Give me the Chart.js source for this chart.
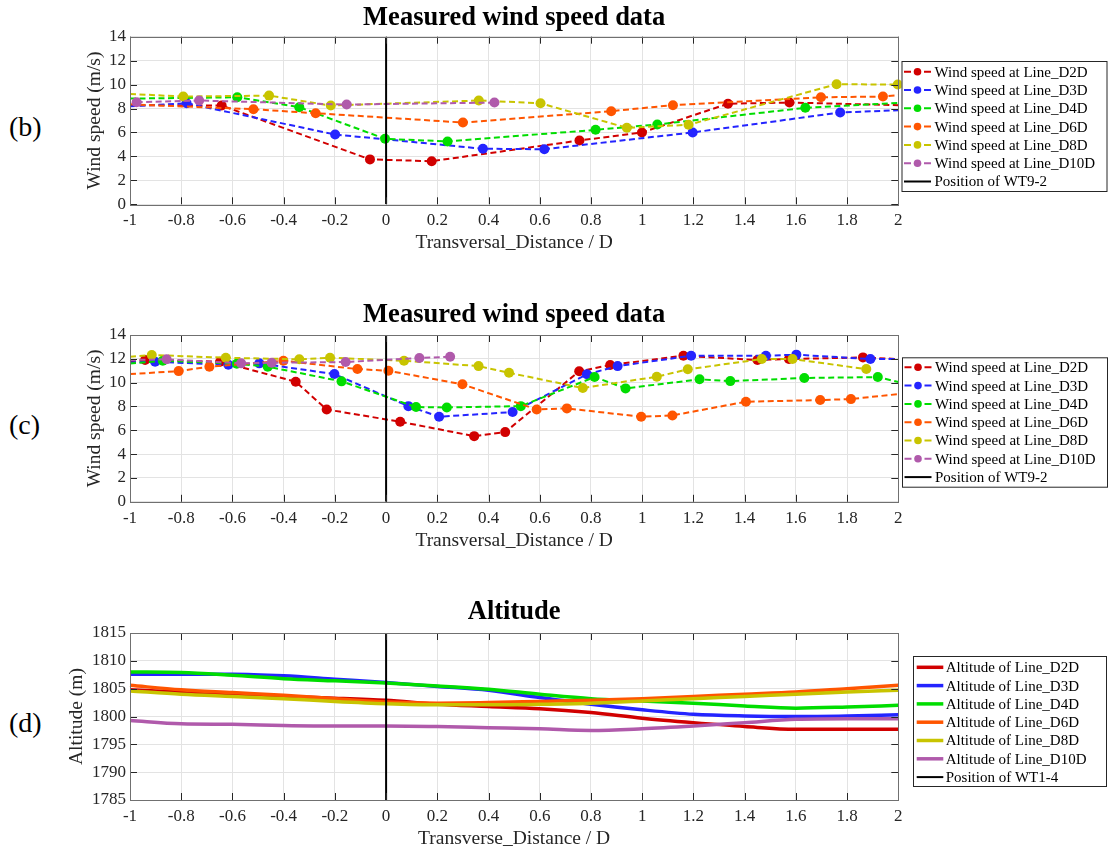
<!DOCTYPE html>
<html>
<head>
<meta charset="utf-8">
<title>Measured wind speed and altitude</title>
<script src="https://cdn.jsdelivr.net/npm/chart.js@4.4.0/dist/chart.umd.min.js"></script>
<style>
    body { margin: 0; background: #fff; width: 1110px; height: 852px; position: relative; overflow: hidden; font-family: "Liberation Serif", serif; }
    canvas { position: absolute; left: 0; }
    .tag { position: absolute; left: 9px; font-size: 28px; line-height: 32px; color: #000; }
</style>
</head>
<body>
<div class="tag" style="top:111px">(b)</div>
<div class="tag" style="top:409px">(c)</div>
<div class="tag" style="top:707px">(d)</div>
<canvas id="chartB" width="1110" height="270" style="top:0px"></canvas>
<canvas id="chartC" width="1110" height="280" style="top:285px"></canvas>
<canvas id="chartD" width="1110" height="272" style="top:580px"></canvas>
<script>
// ---- tick labels ----
const xTickVals = [-1, -0.8, -0.6, -0.4, -0.2, 0, 0.2, 0.4, 0.6, 0.8, 1, 1.2, 1.4, 1.6, 1.8, 2];
const xTickLabels = ['-1', '-0.8', '-0.6', '-0.4', '-0.2', '0', '0.2', '0.4', '0.6', '0.8', '1', '1.2', '1.4', '1.6', '1.8', '2'];
const windTickVals = [0, 2, 4, 6, 8, 10, 12, 14];
const altTickVals = [1785, 1790, 1795, 1800, 1805, 1810, 1815];

const lineNames = ['D2D', 'D3D', 'D4D', 'D6D', 'D8D', 'D10D'];
const lineColors = ['#d10000', '#2424ff', '#00dd00', '#ff5500', '#c8c400', '#b05aab'];

// ---- (b) measured wind speed, first campaign (x = -1 / 2 are only where the line meets the frame) ----
const bX_D2D = [-1, -0.642, -0.063, 0.178, 0.755, 0.999, 1.335, 1.575, 2];
const bY_D2D = [8.28, 8.25, 3.75, 3.6, 5.33, 6.0, 8.4, 8.5, 8.28];
const bX_D3D = [-1, -0.779, -0.199, 0.378, 0.618, 1.197, 1.773, 2];
const bY_D3D = [8.19, 8.44, 5.83, 4.64, 4.6, 6.0, 7.67, 7.86];
const bX_D4D = [-1, -0.581, -0.339, -0.004, 0.24, 0.818, 1.059, 1.637, 2];
const bY_D4D = [8.83, 8.94, 8.11, 5.47, 5.25, 6.22, 6.67, 8.06, 8.47];
const bX_D6D = [-1, -0.518, -0.275, 0.3, 0.879, 1.12, 1.698, 1.94, 2];
const bY_D6D = [8.35, 7.94, 7.61, 6.83, 7.78, 8.28, 8.94, 9.0, 9.11];
const bX_D8D = [-1, -0.792, -0.457, -0.216, 0.362, 0.603, 0.94, 1.181, 1.759, 1.998];
const bY_D8D = [9.22, 9.0, 9.08, 8.25, 8.67, 8.44, 6.39, 6.64, 10.03, 10.0];
const bX_D10D = [-0.974, -0.73, -0.154, 0.423];
const bY_D10D = [8.53, 8.67, 8.33, 8.5];

// ---- (c) measured wind speed, second campaign ----
const cX_D2D = [-1, -0.941, -0.648, -0.353, -0.232, 0.055, 0.344, 0.465, 0.754, 0.875, 1.161, 1.45, 1.573, 1.862, 2];
const cY_D2D = [11.8, 11.9, 11.76, 10.08, 7.75, 6.72, 5.51, 5.85, 10.95, 11.48, 12.26, 11.9, 11.98, 12.12, 11.98];
const cX_D3D = [-1, -0.902, -0.616, -0.495, -0.202, 0.087, 0.207, 0.494, 0.784, 0.904, 1.191, 1.483, 1.602, 1.891, 2];
const cY_D3D = [11.7, 11.76, 11.5, 11.62, 10.72, 8.03, 7.14, 7.53, 10.7, 11.39, 12.26, 12.26, 12.35, 11.98, 11.98];
const cX_D4D = [-1, -0.872, -0.583, -0.462, -0.174, 0.117, 0.237, 0.526, 0.814, 0.935, 1.224, 1.344, 1.633, 1.92, 2];
const cY_D4D = [11.6, 11.84, 11.59, 11.34, 10.11, 7.95, 7.92, 8.03, 10.47, 9.52, 10.28, 10.13, 10.39, 10.47, 10.05];
const cX_D6D = [-1, -0.81, -0.69, -0.401, -0.112, 0.009, 0.298, 0.588, 0.706, 0.996, 1.118, 1.405, 1.695, 1.815, 2];
const cY_D6D = [10.72, 10.97, 11.34, 11.84, 11.14, 11.0, 9.86, 7.75, 7.84, 7.14, 7.25, 8.4, 8.54, 8.62, 9.04];
const cX_D8D = [-1, -0.915, -0.626, -0.339, -0.219, 0.07, 0.361, 0.48, 0.768, 1.057, 1.178, 1.467, 1.587, 1.875];
const cY_D8D = [12.17, 12.32, 12.09, 11.96, 12.09, 11.84, 11.39, 10.83, 9.55, 10.5, 11.12, 11.98, 11.98, 11.14];
const cX_D10D = [-1, -0.857, -0.566, -0.447, -0.158, 0.13, 0.25];
const cY_D10D = [11.9, 11.96, 11.62, 11.67, 11.73, 12.07, 12.18];

// ---- (d) altitude along each line ----
const altX = [-1, -0.8, -0.6, -0.4, -0.2, 0, 0.2, 0.4, 0.6, 0.8, 1, 1.2, 1.4, 1.6, 1.8, 2];
const alt_D2D = [1804.8, 1804.4, 1804.0, 1803.6, 1803.3, 1802.9, 1802.2, 1801.8, 1801.4, 1800.7, 1799.7, 1798.9, 1798.2, 1797.7, 1797.7, 1797.7];
const alt_D3D = [1807.6, 1807.6, 1807.6, 1807.3, 1806.7, 1806.1, 1805.4, 1804.7, 1803.4, 1802.2, 1801.2, 1800.4, 1800.1, 1800.0, 1800.1, 1800.3];
const alt_D4D = [1808.0, 1807.9, 1807.4, 1806.8, 1806.4, 1806.0, 1805.5, 1804.9, 1804.0, 1803.2, 1802.8, 1802.4, 1801.9, 1801.5, 1801.7, 1802.0];
const alt_D6D = [1805.6, 1804.8, 1804.3, 1803.8, 1803.2, 1802.6, 1802.4, 1802.5, 1802.7, 1802.9, 1803.2, 1803.6, 1804.0, 1804.4, 1805.0, 1805.6];
const alt_D8D = [1804.6, 1804.0, 1803.6, 1803.2, 1802.7, 1802.3, 1802.1, 1802.1, 1802.2, 1802.4, 1802.8, 1803.2, 1803.6, 1804.0, 1804.4, 1804.7];
const alt_D10D = [1799.3, 1798.7, 1798.6, 1798.4, 1798.3, 1798.3, 1798.2, 1798.0, 1797.8, 1797.5, 1797.8, 1798.3, 1798.9, 1799.5, 1799.6, 1799.6];

// turbine position (vertical line)
const turbineX = [0, 0];
const windTurbineY = [0, 14];
const altTurbineY = [1785, 1815];

const FONT = '"Liberation Serif", serif';
Chart.defaults.font.family = FONT;

function toPoints(xs, ys) {
    return xs.map((x, i) => ({ x: x, y: ys[i] }));
}

// frame with inward ticks on all four sides, like a boxed axes
const frameTicks = {
    id: 'frameTicks',
    afterDatasetsDraw(chart) {
        const { ctx, chartArea: a, scales: { x, y } } = chart;
        const len = 7;
        ctx.save();
        ctx.lineWidth = 1;
        ctx.strokeStyle = '#262626';
        ctx.beginPath();
        x.ticks.forEach(t => {
            const px = Math.round(x.getPixelForValue(t.value)) + 0.5;
            ctx.moveTo(px, a.bottom); ctx.lineTo(px, a.bottom - len);
            ctx.moveTo(px, a.top); ctx.lineTo(px, a.top + len);
        });
        y.ticks.forEach(t => {
            const py = Math.round(y.getPixelForValue(t.value)) + 0.5;
            ctx.moveTo(a.left, py); ctx.lineTo(a.left + len, py);
            ctx.moveTo(a.right, py); ctx.lineTo(a.right - len, py);
        });
        ctx.stroke();
        ctx.strokeStyle = '#707070';
        ctx.strokeRect(Math.round(a.left) + 0.5, Math.round(a.top) + 0.5, Math.round(a.width), Math.round(a.height));
        ctx.restore();
    }
};

// boxed legend drawn to the right of the axes
const boxLegend = {
    id: 'boxLegend',
    afterDraw(chart, args, o) {
        const ctx = chart.ctx;
        ctx.save();
        ctx.fillStyle = '#fff';
        ctx.fillRect(o.x, o.y, o.w, o.h);
        ctx.strokeStyle = '#262626';
        ctx.lineWidth = 1;
        ctx.strokeRect(o.x + 0.5, o.y + 0.5, o.w, o.h);
        ctx.font = '15px ' + FONT;
        ctx.textBaseline = 'middle';
        chart.data.datasets.forEach((ds, i) => {
            const cy = o.y + o.first + i * o.step;
            const x0 = o.x + o.s0, x1 = o.x + o.s1;
            ctx.strokeStyle = ds.borderColor;
            ctx.lineWidth = ds.legendWidth;
            ctx.setLineDash(ds.legendMarker ? [7, x1 - x0 - 14] : []);
            ctx.beginPath();
            ctx.moveTo(x0, cy); ctx.lineTo(x1, cy);
            ctx.stroke();
            ctx.setLineDash([]);
            if (ds.legendMarker) {
                ctx.fillStyle = ds.borderColor;
                ctx.beginPath();
                ctx.arc((x0 + x1) / 2, cy, 3.8, 0, Math.PI * 2);
                ctx.fill();
            }
            ctx.fillStyle = '#000';
            ctx.fillText(ds.label, o.x + o.tx, cy + 1);
        });
        ctx.restore();
    }
};

function makePanel(canvasId, p) {
    const datasets = p.series.map((s, i) => ({
        label: p.labelPrefix + lineNames[i],
        data: toPoints(s[0], s[1]),
        borderColor: lineColors[i],
        backgroundColor: lineColors[i],
        borderWidth: p.dashed ? 2 : 3.5,
        borderDash: p.dashed ? [6, 3.5] : [],
        pointRadius: p.dashed ? (c => (c.raw && (c.raw.x === -1 || c.raw.x === 2)) ? 0 : 5) : 0,
        pointBorderWidth: 0,
        cubicInterpolationMode: p.dashed ? 'default' : 'monotone',
        tension: p.dashed ? 0 : 0.4,
        clip: false,
        order: 10 - i,
        legendMarker: p.dashed,
        legendWidth: p.dashed ? 2 : 3.5
    }));
    datasets.push({
        label: p.turbineLabel,
        data: toPoints(turbineX, p.turbineY),
        borderColor: '#000',
        backgroundColor: '#000',
        borderWidth: 2,
        pointRadius: 0,
        order: 0,
        legendMarker: false,
        legendWidth: 2
    });

    return new Chart(document.getElementById(canvasId), {
        type: 'line',
        data: { datasets: datasets },
        options: {
            responsive: false,
            animation: false,
            devicePixelRatio: 1,
            events: [],
            layout: { padding: { left: p.padL, right: 211.7, top: 0, bottom: p.padB } },
            plugins: {
                legend: { display: false },
                tooltip: { enabled: false },
                title: {
                    display: true,
                    fullSize: false,
                    text: p.title,
                    color: '#000',
                    font: { family: FONT, size: 26.5, weight: 'bold' },
                    padding: { top: p.titleTop, bottom: p.titleBottom }
                },
                boxLegend: p.legend
            },
            scales: {
                x: {
                    type: 'linear',
                    min: -1,
                    max: 2,
                    afterBuildTicks: s => { s.ticks = xTickVals.map(v => ({ value: v })); },
                    afterFit: s => { s.height = p.xH; },
                    grid: { color: '#e3e3e3', drawTicks: false },
                    border: { display: false },
                    ticks: {
                        color: '#262626',
                        font: { family: FONT, size: 17 },
                        padding: 6.5,
                        maxRotation: 0,
                        autoSkip: false,
                        callback: (v, i) => xTickLabels[i]
                    },
                    title: {
                        display: true,
                        text: p.xTitle,
                        color: '#262626',
                        font: { family: FONT, size: 19.5 },
                        padding: 0
                    }
                },
                y: {
                    type: 'linear',
                    min: p.yTicks[0],
                    max: p.yTicks[p.yTicks.length - 1],
                    afterBuildTicks: s => { s.ticks = p.yTicks.map(v => ({ value: v })); },
                    afterFit: s => { s.width = 130 - p.padL; },
                    grid: { color: '#e3e3e3', drawTicks: false },
                    border: { display: false },
                    ticks: {
                        color: '#262626',
                        font: { family: FONT, size: 17 },
                        padding: 4,
                        autoSkip: false,
                        callback: v => String(v)
                    },
                    title: {
                        display: true,
                        text: p.yTitle,
                        color: '#262626',
                        font: { family: FONT, size: 19.5 },
                        padding: 0
                    }
                }
            }
        },
        plugins: [frameTicks, boxLegend]
    });
}

makePanel('chartB', {
    series: [[bX_D2D, bY_D2D], [bX_D3D, bY_D3D], [bX_D4D, bY_D4D], [bX_D6D, bY_D6D], [bX_D8D, bY_D8D], [bX_D10D, bY_D10D]],
    labelPrefix: 'Wind speed at Line_',
    turbineLabel: 'Position of WT9-2',
    turbineY: windTurbineY,
    dashed: true,
    title: 'Measured wind speed data',
    xTitle: 'Transversal_Distance / D',
    yTitle: 'Wind speed (m/s)',
    yTicks: windTickVals,
    padL: 83.3, padB: 15.3, xH: 50.4,
    titleTop: 2.6, titleBottom: 2.3,
    legend: { x: 901.5, y: 61, w: 205, h: 130, first: 10.7, step: 18.3, s0: 2.5, s1: 29.5, tx: 33 }
});

makePanel('chartC', {
    series: [[cX_D2D, cY_D2D], [cX_D3D, cY_D3D], [cX_D4D, cY_D4D], [cX_D6D, cY_D6D], [cX_D8D, cY_D8D], [cX_D10D, cY_D10D]],
    labelPrefix: 'Wind speed at Line_',
    turbineLabel: 'Position of WT9-2',
    turbineY: windTurbineY,
    dashed: true,
    title: 'Measured wind speed data',
    xTitle: 'Transversal_Distance / D',
    yTitle: 'Wind speed (m/s)',
    yTicks: windTickVals,
    padL: 83.3, padB: 12.8, xH: 50.4,
    titleTop: 14.2, titleBottom: 4.0,
    legend: { x: 902, y: 72.3, w: 205, h: 129.4, first: 10, step: 18.3, s0: 2.5, s1: 29.5, tx: 33 }
});

makePanel('chartD', {
    series: [[altX, alt_D2D], [altX, alt_D3D], [altX, alt_D4D], [altX, alt_D6D], [altX, alt_D8D], [altX, alt_D10D]],
    labelPrefix: 'Altitude of Line_',
    turbineLabel: 'Position of WT1-4',
    turbineY: altTurbineY,
    dashed: false,
    title: 'Altitude',
    xTitle: 'Transverse_Distance / D',
    yTitle: 'Altitude (m)',
    yTicks: altTickVals,
    padL: 65, padB: 1.8, xH: 50.2,
    titleTop: 16.2, titleBottom: 5.0,
    legend: { x: 913, y: 76, w: 193, h: 130, first: 11.3, step: 18.3, s0: 3.7, s1: 30.3, tx: 32.7 }
});
</script>
</body>
</html>
